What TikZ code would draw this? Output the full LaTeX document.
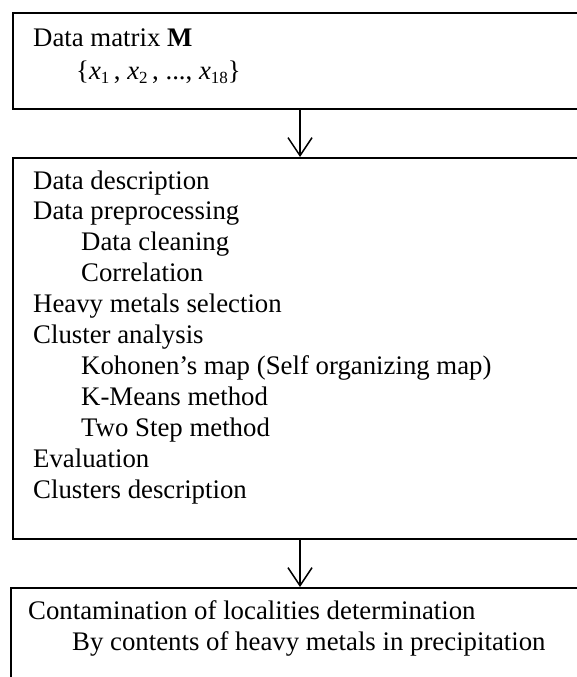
\documentclass[tikz,border=0pt]{standalone}
\usepackage{fontspec}
\setmainfont{Liberation Serif}
\usetikzlibrary{arrows.meta}
\tikzset{
  boxframe/.style={draw=black, line width=1.6pt, rectangle, inner sep=0pt, anchor=north west},
  txt/.style={anchor=base west, inner sep=0pt, font=\fontsize{26.8}{30}\selectfont},
  flow/.style={draw=black, line width=1.5pt, -{Straight Barb[length=18pt, width=24pt, line width=1.5pt]}}
}
\newcommand{\xv}[1]{\textit{x}{\fontsize{17}{17}\selectfont\raisebox{-4pt}{#1}}}
\begin{document}
\begin{tikzpicture}[x=1pt, y=1pt]
\useasboundingbox (0,0) rectangle (577,-677);
\clip (0,0) rectangle (577,-677);
\fill[white] (0,0) rectangle (577,-677);
% boxes
\node[boxframe, minimum width=620pt, minimum height=96pt] (b1) at (12,-12) {};
\node[boxframe, minimum width=620pt, minimum height=381pt] (b2) at (12,-157) {};
\node[boxframe, minimum width=620pt, minimum height=140pt] (b3) at (10,-587) {};
\coordinate (a1s) at (300,-108);
\coordinate (a1e) at (300,-157);
\coordinate (a2s) at (300,-538);
\coordinate (a2e) at (300,-587);
\draw[flow] (a1s) -- (a1e);
\draw[flow] (a2s) -- (a2e);
% top text
\node[txt] (t1) at (33,-47) {Data matrix \textbf{M}};
\node[txt] (t2) at (76,-79) {\{\xv{1}\,, \xv{2}\,, ..., \xv{18}\}};
% middle text
\node[txt] (m1) at (33,-189) {Data description};
\node[txt] (m2) at (33,-219.9) {Data preprocessing};
\node[txt] (m3) at (81,-250.8) {Data cleaning};
\node[txt] (m4) at (81,-281.7) {Correlation};
\node[txt] (m5) at (33,-312.6) {Heavy metals selection};
\node[txt] (m6) at (33,-343.5) {Cluster analysis};
\node[txt] (m7) at (81,-374.4) {Kohonen’s map (Self organizing map)};
\node[txt] (m8) at (81,-405.3) {K-Means method};
\node[txt] (m9) at (81,-436.2) {Two Step method};
\node[txt] (m10) at (33,-467.1) {Evaluation};
\node[txt] (m11) at (33,-498) {Clusters description};
% bottom text
\node[txt] (c1) at (28,-619) {Contamination of localities determination};
\node[txt] (c2) at (72,-650) {By contents of heavy metals in precipitation};
\end{tikzpicture}
\end{document}
